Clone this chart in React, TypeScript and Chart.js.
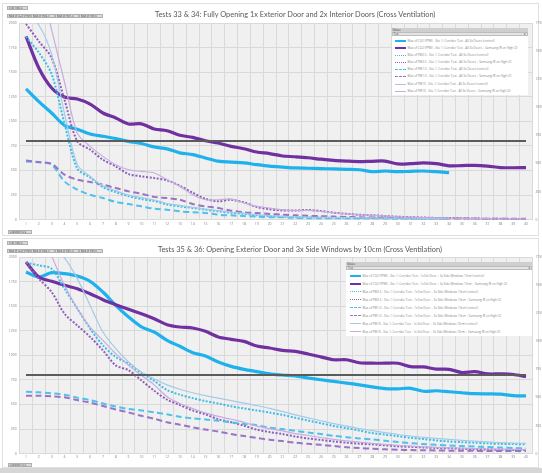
import { useEffect, useRef } from 'react';
import { Chart, registerables } from 'chart.js';

Chart.register(...registerables);

// ---------------- data ----------------
const durationLabels = ['1','2','3','4','5','6','7','8','9','10','11','12','13','14','15','16','17','18','19','20','21','22','23','24','25','26','27','28','29','30','31','32','33','34','35','36','37','38','39','40'];
const leftAxisTicks = [0, 250, 500, 750, 1000, 1250, 1500, 1750, 2000];
const rightAxisTicks = [0, 250, 500, 750, 1000, 1250, 1500, 1750];
const co2Threshold = [800,800,800,800,800,800,800,800,800,800,800,800,800,800,800,800,800,800,800,800,800,800,800,800,800,800,800,800,800,800,800,800,800,800,800,800,800,800,800,800];

// Tests 33 & 34
const t33Co2Control = [1330,1200,1085,960,920,872,848,824,797,775,740,720,680,662,628,595,585,577,560,545,535,526,523,520,516,512,508,488,495,488,492,495,488,478];
const t34Co2Samsung = [1864,1542,1339,1247,1227,1176,1085,1034,973,975,922,905,858,837,803,780,746,722,688,672,648,640,630,615,603,596,591,594,596,567,570,578,570,548,550,553,545,530,528,530];
const t33Pm25Control = [1860,1700,1480,980,520,430,330,280,240,210,190,155,136,119,102,85,70,60,46,36,30,26,24,22,20,19,18,17,16,15,14,13,12,11];
const t34Pm25Samsung = [1990,1814,1644,1220,797,712,610,542,464,441,424,400,345,275,212,188,202,176,130,106,94,93,99,88,71,60,50,45,38,30,26,22,18,17,14,12,10,9,8,7];
const t33Pm1Control = [593,583,559,390,305,254,220,180,159,136,112,102,85,75,68,51,44,37,31,26,24,18,16,15,14,13,12,12,11,10,10,9,9,8];
const t34Pm1Samsung = [603,586,569,458,407,383,356,322,288,264,232,220,203,160,136,119,92,75,68,58,51,45,40,36,32,28,25,22,20,18,16,15,14,13,12,11,10,10,9,9];
const t33Pm10Control = [2100,1980,1680,1080,560,440,345,295,250,225,200,165,145,125,108,92,76,64,50,40,33,28,26,24,22,21,20,18,17,16,15,14,13,12];
const t34Pm10Samsung = [2900,2490,1930,1400,880,746,644,559,508,491,475,407,339,254,203,203,210,170,136,119,102,92,95,85,70,60,50,44,38,30,26,22,18,16,13,11,10,9,8,7];

// Tests 35 & 36
const t35Co2Control = [1848,1797,1841,1831,1807,1753,1644,1509,1390,1290,1237,1153,1092,1027,993,932,888,858,835,812,800,790,770,752,735,718,700,680,662,660,665,635,640,630,620,610,608,605,590,588];
const t36Co2Samsung = [1949,1797,1753,1712,1678,1627,1566,1515,1468,1424,1373,1312,1288,1278,1244,1187,1163,1142,1095,1075,1051,1040,1014,985,955,955,925,920,920,920,885,882,860,858,825,834,812,811,805,785];
const t35Pm25Control = [1942,1915,1881,1678,1475,1271,1102,983,915,820,740,648,600,565,535,510,482,460,440,418,395,365,337,310,282,260,235,210,195,178,162,150,135,125,117,112,105,100,98,95];
const t36Pm25Samsung = [1942,1780,1644,1424,1305,1187,1051,898,848,746,640,550,495,440,400,350,320,285,245,220,200,175,155,140,125,112,102,95,85,75,70,64,58,55,50,46,43,40,38,37];
const t35Pm1Control = [631,624,615,600,570,545,510,480,455,440,420,400,375,360,348,335,318,302,290,265,250,232,215,200,182,168,155,145,132,118,108,98,90,84,78,72,67,62,58,55];
const t36Pm1Samsung = [590,590,583,573,545,519,485,450,420,385,355,320,295,268,245,225,200,180,160,142,128,112,100,90,78,66,58,50,45,40,37,35,33,31,30,29,28,28,27,27];
const t35Pm10Control = [2400,2250,2100,1990,1780,1508,1237,1068,932,830,760,700,655,620,590,565,540,515,490,460,430,395,365,335,305,280,255,235,215,195,180,165,155,145,135,127,120,113,108,105];
const t36Pm10Samsung = [2600,2300,2010,1712,1475,1288,1153,1017,898,797,700,580,510,460,415,380,350,320,280,255,232,205,185,165,145,130,118,105,95,85,78,70,65,60,56,52,49,46,44,42];

const topLegendLabels = [
  'Max of CO2 (PPM) - Site 1: Corridor Test - All 3x Doors (control)',
  'Max of CO2 (PPM) - Site 1: Corridor Test - All 3x Doors + Samsung IR on High (2)',
  'Max of PM2.5 - Site 1: Corridor Test - All 3x Doors (control)',
  'Max of PM2.5 - Site 1: Corridor Test - All 3x Doors + Samsung IR on High (2)',
  'Max of PM1.0 - Site 1: Corridor Test - All 3x Doors (control)',
  'Max of PM1.0 - Site 1: Corridor Test - All 3x Doors + Samsung IR on High (2)',
  'Max of PM10 - Site 1: Corridor Test - All 3x Doors (control)',
  'Max of PM10 - Site 1: Corridor Test - All 3x Doors + Samsung IR on High (2)',
];
const bottomLegendLabels = [
  'Max of CO2 (PPM) - Site 1: Corridor Test - 1x Ext Door + 3x Side Windows 10cm (control)',
  'Max of CO2 (PPM) - Site 1: Corridor Test - 1x Ext Door + 3x Side Windows 10cm + Samsung IR on High (2)',
  'Max of PM2.5 - Site 1: Corridor Test - 1x Ext Door + 3x Side Windows 10cm (control)',
  'Max of PM2.5 - Site 1: Corridor Test - 1x Ext Door + 3x Side Windows 10cm + Samsung IR on High (2)',
  'Max of PM1.0 - Site 1: Corridor Test - 1x Ext Door + 3x Side Windows 10cm (control)',
  'Max of PM1.0 - Site 1: Corridor Test - 1x Ext Door + 3x Side Windows 10cm + Samsung IR on High (2)',
  'Max of PM10 - Site 1: Corridor Test - 1x Ext Door + 3x Side Windows 10cm (control)',
  'Max of PM10 - Site 1: Corridor Test - 1x Ext Door + 3x Side Windows 10cm + Samsung IR on High (2)',
];
const valueButtons = ['Max of CO2 (PPM)', 'Max of PM2.5', 'Max of PM1.0', 'Max of PM10'];
const topTitle = 'Tests 33 & 34: Fully Opening 1x Exterior Door and 2x Interior Doors (Cross Ventilation)';
const bottomTitle = 'Tests 35 & 36: Opening Exterior Door and 3x Side Windows by 10cm (Cross Ventilation)';

// ---------------- styles ----------------
type SeriesStyle = { color: string; width: number; dash: number[]; css: string };
const seriesStyles: SeriesStyle[] = [
  { color: '#1fb1ec', width: 3.2, dash: [], css: 'solid' },
  { color: '#7030a0', width: 3.2, dash: [], css: 'solid' },
  { color: '#3bbde9', width: 2, dash: [2, 1.6], css: 'dotted' },
  { color: '#8d5ebf', width: 2, dash: [2, 1.6], css: 'dotted' },
  { color: '#4fc1eb', width: 2, dash: [6, 3.5], css: 'dashed' },
  { color: '#9b72c6', width: 2, dash: [6, 3.5], css: 'dashed' },
  { color: '#a3cbe6', width: 1.2, dash: [], css: 'solid' },
  { color: '#c6addd', width: 1.2, dash: [], css: 'solid' },
];
const FONT = "'Open Sans', 'DejaVu Sans', sans-serif";

const plotBg = {
  id: 'plotBg',
  beforeDraw(chart: any) {
    const { ctx, chartArea: a } = chart;
    ctx.save();
    ctx.fillStyle = '#f0f0f0';
    ctx.fillRect(a.left, a.top, a.width, a.height);
    ctx.restore();
  },
};

type ChartProps = {
  series: number[][];
  labels: string[];
  top: number;
  height: number;
  padTop: number;
  xAxisH: number;
  xPad: number;
};

function LineChart({ series, labels, top, height, padTop, xAxisH, xPad }: ChartProps) {
  const ref = useRef<HTMLCanvasElement | null>(null);
  useEffect(() => {
    if (!ref.current) return;
    const datasets: any[] = series.map((d, i) => ({
      label: labels[i],
      data: d,
      yAxisID: 'y',
      borderColor: seriesStyles[i].color,
      backgroundColor: seriesStyles[i].color,
      borderWidth: seriesStyles[i].width,
      borderDash: seriesStyles[i].dash,
      pointRadius: 0,
      tension: 0.3,
      fill: false,
      order: 10 - i,
    }));
    datasets.push({
      label: 'CO2 800 ppm',
      data: co2Threshold,
      yAxisID: 'y',
      borderColor: '#5b5b5b',
      borderWidth: 2.2,
      pointRadius: 0,
      tension: 0,
      fill: false,
      order: 0,
    });
    const tickFont = { size: 3.4, family: FONT };
    const plain = (v: any) => String(v);
    const chart = new Chart(ref.current, {
      type: 'line',
      data: { labels: durationLabels, datasets },
      plugins: [plotBg],
      options: {
        animation: false,
        responsive: false,
        devicePixelRatio: 1,
        layout: { padding: { top: padTop, left: 0, right: 0, bottom: 0 } },
        plugins: { legend: { display: false }, tooltip: { enabled: false }, title: { display: false } },
        scales: {
          x: {
            type: 'category',
            offset: true,
            grid: { offset: true, color: '#d9d9d9', lineWidth: 1, drawTicks: false },
            border: { display: false },
            ticks: { font: tickFont, color: '#7f7f7f', padding: xPad, maxRotation: 0, autoSkip: false },
            afterFit: (s: any) => { s.height = xAxisH; },
          },
          y: {
            position: 'left',
            min: leftAxisTicks[0],
            max: leftAxisTicks[leftAxisTicks.length - 1],
            afterBuildTicks: (s: any) => { s.ticks = leftAxisTicks.map((v) => ({ value: v })); },
            grid: { color: '#d9d9d9', lineWidth: 1, drawTicks: false },
            border: { display: false },
            ticks: { font: tickFont, color: '#7f7f7f', padding: 3, callback: plain },
            afterFit: (s: any) => { s.width = 19.6; },
          },
          y1: {
            position: 'right',
            min: rightAxisTicks[0],
            max: rightAxisTicks[rightAxisTicks.length - 1],
            afterBuildTicks: (s: any) => { s.ticks = rightAxisTicks.map((v) => ({ value: v })); },
            grid: { display: false, drawTicks: false },
            border: { display: false },
            ticks: { font: tickFont, color: '#7f7f7f', padding: 3, callback: plain },
            afterFit: (s: any) => { s.width = 9.6; },
          },
        },
      } as any,
    });
    return () => chart.destroy();
  }, []);
  return (
    <canvas
      ref={ref}
      width={542}
      height={height}
      style={{ position: 'absolute', left: 0, top, width: 542, height }}
    />
  );
}

function Button({ text, left, top, width }: { text: string; left: number; top: number; width: number }) {
  return (
    <div
      style={{
        position: 'absolute', left, top, width, height: 4, boxSizing: 'border-box',
        background: '#d9d9d9', border: '0.5px solid #b0b0b0', fontSize: 2.6, lineHeight: '3.4px',
        color: '#404040', fontFamily: FONT, whiteSpace: 'nowrap', overflow: 'hidden', paddingLeft: 1,
      }}
    >
      {text}
    </div>
  );
}

function ButtonRow({ left, top }: { left: number; top: number }) {
  return (
    <>
      {valueButtons.map((b, i) => (
        <Button key={b} text={b} left={left + i * 24} top={top} width={23.5} />
      ))}
    </>
  );
}

function Legend({ left, top, width, rowH, labels, swatchW }: { left: number; top: number; width: number; rowH: number; labels: string[]; swatchW: number }) {
  return (
    <div style={{ position: 'absolute', left, top, width, background: '#ffffff', fontFamily: FONT, color: '#7f7f7f' }}>
      <div style={{ height: 4, background: '#cfcfcf', fontSize: 2.6, lineHeight: '4px', paddingLeft: 1, color: '#404040' }}>Values</div>
      <div style={{ height: 4, marginTop: 0.5, background: '#e3e3e3', border: '0.5px solid #bdbdbd', boxSizing: 'border-box', fontSize: 2.6, lineHeight: '3px', paddingLeft: 1, color: '#404040', position: 'relative' }}>
        Test
        <span style={{ position: 'absolute', right: 1, top: 0, fontSize: 3 }}>▾</span>
      </div>
      <div style={{ paddingTop: 1.5 }}>
        {labels.map((l, i) => (
          <div key={l} style={{ height: rowH, display: 'flex', alignItems: 'center', whiteSpace: 'nowrap', overflow: 'hidden' }}>
            <div style={{ width: swatchW, marginLeft: 3.5, marginRight: 1.5, height: 0, borderTop: `${Math.max(1, seriesStyles[i].width - 0.5)}px ${seriesStyles[i].css} ${seriesStyles[i].color}`, flex: 'none' }} />
            <span style={{ fontSize: 3, lineHeight: `${rowH}px` }}>{l}</span>
          </div>
        ))}
      </div>
    </div>
  );
}

function Title({ text, left, top }: { text: string; left: number; top: number }) {
  return (
    <div style={{ position: 'absolute', left, top, fontFamily: "Lato, 'Open Sans', sans-serif", fontSize: 7.4, color: '#595959', whiteSpace: 'nowrap', lineHeight: '8px' }}>
      {text}
    </div>
  );
}

export default function App() {
  return (
    <div style={{ position: 'absolute', left: 0, top: 0, width: 542, height: 473, background: '#ffffff', overflow: 'hidden' }}>
      <div style={{ position: 'absolute', left: 2, top: 3, width: 537, height: 233, border: '1px solid #e0e0e0', boxSizing: 'border-box' }} />
      <div style={{ position: 'absolute', left: 2, top: 238, width: 537, height: 230, border: '1px solid #e0e0e0', boxSizing: 'border-box' }} />
      <div style={{ position: 'absolute', left: 0, top: 468, width: 542, height: 5, background: '#d6d6d6' }} />

      <LineChart
        series={[t33Co2Control, t34Co2Samsung, t33Pm25Control, t34Pm25Samsung, t33Pm1Control, t34Pm1Samsung, t33Pm10Control, t34Pm10Samsung]}
        labels={topLegendLabels}
        top={0}
        height={237}
        padTop={23}
        xAxisH={17.3}
        xPad={2.5}
      />
      <LineChart
        series={[t35Co2Control, t36Co2Samsung, t35Pm25Control, t36Pm25Samsung, t35Pm1Control, t36Pm1Samsung, t35Pm10Control, t36Pm10Samsung]}
        labels={bottomLegendLabels}
        top={237}
        height={231}
        padTop={20}
        xAxisH={14.3}
        xPad={1.5}
      />

      <Title text={topTitle} left={155} top={11} />
      <Title text={bottomTitle} left={158} top={245.5} />

      <Button text="Test Type ▾" left={7} top={6} width={21} />
      <ButtonRow left={7} top={14} />
      <Button text="Duration (s) ▾" left={8} top={229.5} width={24} />

      <Button text="Test Type ▾" left={7} top={240.5} width={21} />
      <ButtonRow left={7} top={248.5} />
      <Button text="Duration (s) ▾" left={8} top={463} width={24} />

      <Legend left={391.5} top={27.7} width={136} rowH={7.15} labels={topLegendLabels} swatchW={11} />
      <Legend left={346} top={261.5} width={186} rowH={8.05} labels={bottomLegendLabels} swatchW={11.5} />
    </div>
  );
}
